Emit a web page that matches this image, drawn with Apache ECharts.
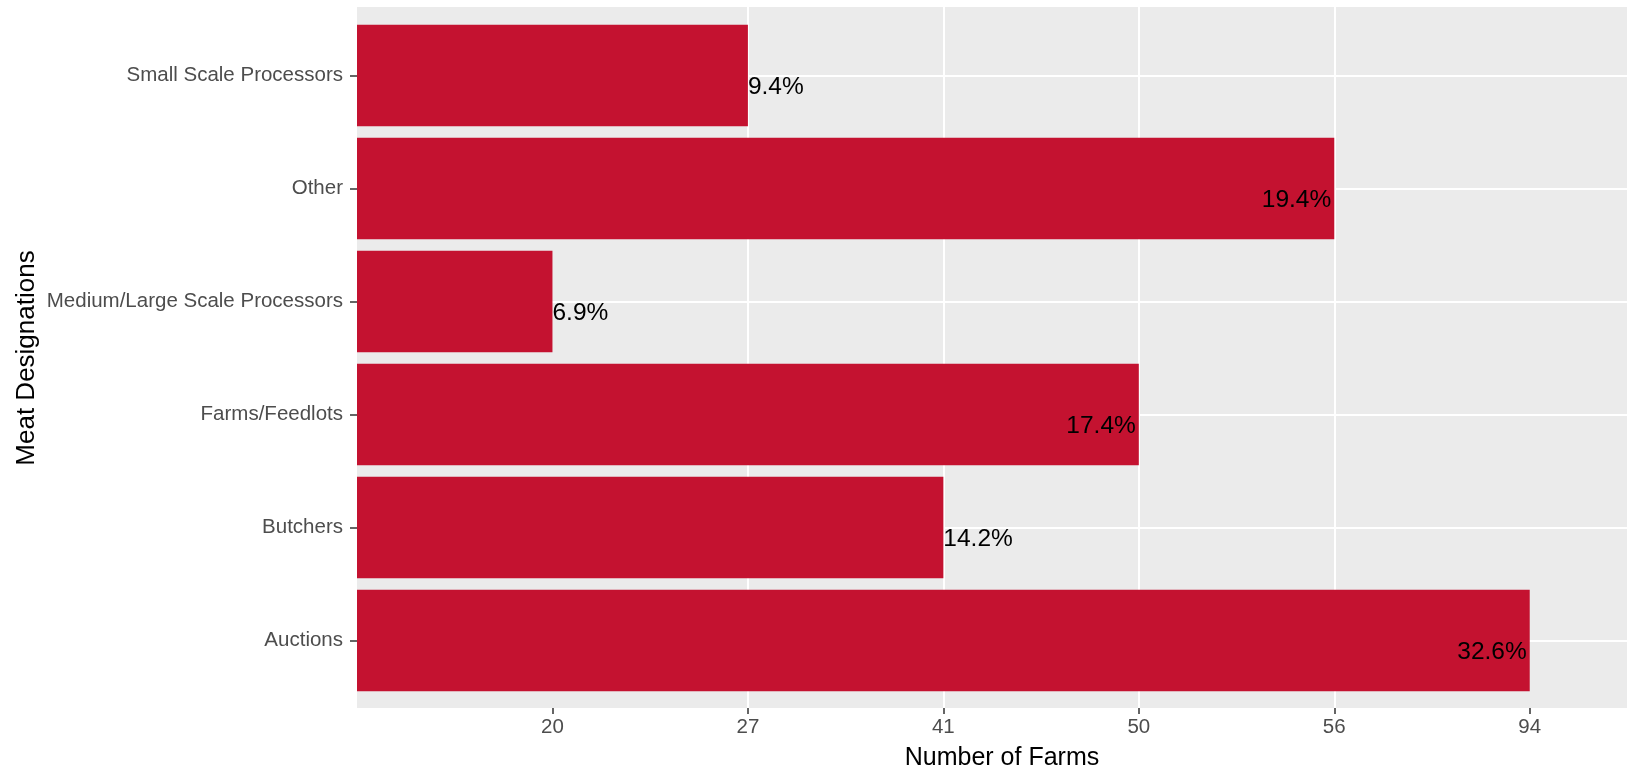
<!DOCTYPE html>
<html>
<head>
<meta charset="UTF-8">
<title>Meat Designations</title>
<script src="https://cdn.jsdelivr.net/npm/echarts@6/dist/echarts.min.js"></script>
<style>
  body { margin: 0; background: #fff; overflow: hidden; }
  #chart { width: 1627px; height: 768px; }
</style>
</head>
<body>
<div id="chart"></div>
<script type="text/javascript">
// categories, bottom to top
var designations = ['Auctions', 'Butchers', 'Farms/Feedlots', 'Medium/Large Scale Processors', 'Other', 'Small Scale Processors'];
var farmCounts = [94, 41, 50, 20, 56, 27];
var pctLabels = ['32.6%', '14.2%', '17.4%', '6.9%', '19.4%', '9.4%'];
// the x axis is discrete: one slot per distinct count
var xTicks = ['20', '27', '41', '50', '56', '94'];

var red = '#C41230';
var font = 'Liberation Sans, Arial, sans-serif';

var barData = farmCounts.map(function (c, i) {
  var inside = c >= 50;
  return {
    value: xTicks.indexOf(String(c)) + 1,
    label: {
      show: true,
      formatter: pctLabels[i],
      position: inside ? 'insideRight' : 'right',
      distance: inside ? 3 : 0,
      offset: [0, 12],
      color: '#000',
      fontSize: 24.5,
      fontFamily: font
    }
  };
});

var chart = echarts.init(document.getElementById('chart'));
var option = {
  animation: false,
  grid: [
    // panel background (runs a little past the right edge, as in the original)
    {left: 357, right: -20, top: 7, bottom: 60, show: true, backgroundColor: '#EBEBEB', borderWidth: 0, outerBoundsMode: 'none'},
    // bars
    {left: 357, right: -20, top: 19, bottom: 71, outerBoundsMode: 'none'}
  ],
  xAxis: [
    {
      gridIndex: 0, type: 'value', min: 0, max: 6.6, interval: 1,
      axisLine: {show: false},
      axisTick: {show: true, length: 6, lineStyle: {color: '#333', width: 1.5}, customValues: [1, 2, 3, 4, 5, 6]},
      axisLabel: {
        color: '#4D4D4D', fontSize: 20.5, fontFamily: font, margin: 9,
        customValues: [1, 2, 3, 4, 5, 6],
        formatter: function (v) { return xTicks[v - 1] || ''; }
      },
      splitLine: {show: true, showMinLine: false, showMaxLine: false, lineStyle: {color: '#fff', width: 2}},
      name: 'Number of Farms', nameLocation: 'middle', nameGap: 38,
      nameTextStyle: {color: '#000', fontSize: 25, fontFamily: font}
    },
    {gridIndex: 1, type: 'value', min: 0, max: 6.6, show: false}
  ],
  yAxis: [
    {gridIndex: 0, type: 'value', show: false},
    {
      gridIndex: 1, type: 'category', data: designations,
      axisLine: {show: false},
      axisTick: {show: true, alignWithLabel: true, length: 7, lineStyle: {color: '#333', width: 1.5}},
      axisLabel: {color: '#4D4D4D', fontSize: 20.5, fontFamily: font, margin: 14},
      splitLine: {show: true, alignWithLabel: true, lineStyle: {color: '#fff', width: 2}},
      name: 'Meat Designations', nameLocation: 'middle', nameRotate: 90, nameGap: 317,
      nameMoveOverlap: false,
      nameTextStyle: {color: '#000', fontSize: 26, fontFamily: font}
    }
  ],
  series: [
    {
      type: 'bar',
      xAxisIndex: 1,
      yAxisIndex: 1,
      data: barData,
      barCategoryGap: '10%',
      itemStyle: {color: red}
    }
  ]
};
chart.setOption(option, true);
</script>
</body>
</html>
